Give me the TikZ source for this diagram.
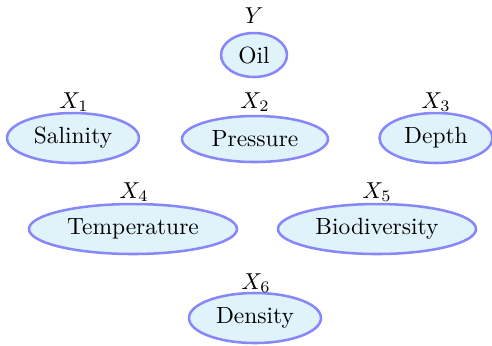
\documentclass[tikz,border=0pt]{standalone}
\usetikzlibrary{shapes.geometric}
\definecolor{nodefill}{RGB}{224,243,250}
\definecolor{nodedraw}{RGB}{135,135,250}
\begin{document}
\begin{tikzpicture}[x=0.4348pt,y=-0.4348pt,
  var/.style={ellipse,draw=nodedraw,fill=nodefill,line width=1.1pt,inner sep=0pt,font=\fontsize{10.2}{12}\selectfont},
  lbl/.style={inner sep=0pt,font=\fontsize{10.2}{12}\selectfont}]
\useasboundingbox (0,0) rectangle (492,345);
\node[var,minimum width=66*0.4348pt,minimum height=44*0.4348pt] (oil) at (254,55) {Oil};
\node[var,minimum width=132*0.4348pt,minimum height=50*0.4348pt] (sal) at (73,138) {Salinity};
\node[var,minimum width=146*0.4348pt,minimum height=46*0.4348pt] (pre) at (255,139) {Pressure};
\node[var,minimum width=113*0.4348pt,minimum height=50*0.4348pt] (dep) at (436,138) {Depth};
\node[var,minimum width=208*0.4348pt,minimum height=50*0.4348pt] (tem) at (133,229) {Temperature};
\node[var,minimum width=198*0.4348pt,minimum height=50*0.4348pt] (bio) at (377,229) {Biodiversity};
\node[var,minimum width=132*0.4348pt,minimum height=50*0.4348pt] (den) at (255,318) {Density};
\node[lbl] (ly) at (254,16) {$Y$};
\node[lbl] (l1) at (74,102) {$X_1$};
\node[lbl] (l2) at (255,102) {$X_2$};
\node[lbl] (l3) at (436,102) {$X_3$};
\node[lbl] (l4) at (134,192) {$X_4$};
\node[lbl] (l5) at (377,192) {$X_5$};
\node[lbl] (l6) at (256,283) {$X_6$};
\end{tikzpicture}
\end{document}
